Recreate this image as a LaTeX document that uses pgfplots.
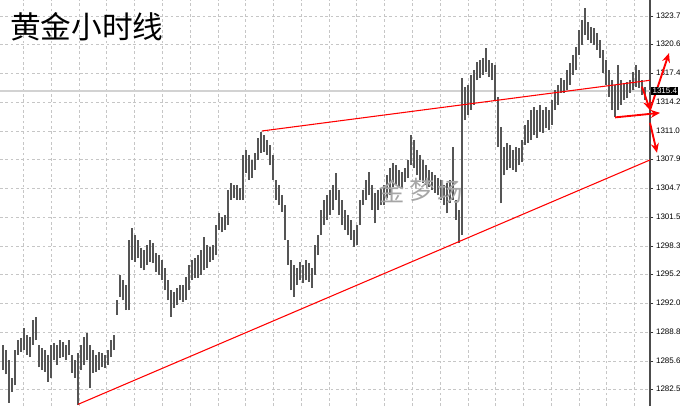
\documentclass[border=0pt]{standalone}
\usepackage{fontspec}
\setmainfont{Liberation Sans}
\newfontfamily\cjk{Noto Sans CJK SC}
\usepackage{pgfplots}
\pgfplotsset{compat=1.18}
\usepackage{pgfplotstable}
\usetikzlibrary{arrows.meta}
\definecolor{barcol}{RGB}{85,85,85}

\pgfplotstableread{
i l h
0 1284.6 1287.4
1 1284.1 1286.8
2 1281.0 1285.7
3 1282.2 1283.7
4 1282.9 1286.8
5 1286.3 1287.9
6 1286.6 1288.1
7 1286.8 1289.2
8 1286.3 1288.5
9 1286.0 1288.2
10 1287.4 1290.1
11 1287.9 1290.5
12 1284.9 1287.4
13 1284.6 1287.0
14 1284.4 1286.8
15 1283.3 1286.3
16 1283.7 1287.4
17 1285.7 1287.6
18 1285.2 1287.4
19 1285.9 1287.9
20 1286.0 1287.7
21 1285.7 1287.4
22 1286.3 1287.9
23 1284.3 1286.3
24 1283.7 1285.7
25 1280.7 1286.5
26 1284.6 1287.4
27 1285.2 1288.2
28 1285.7 1288.7
29 1282.6 1287.4
30 1284.3 1286.8
31 1284.4 1286.3
32 1284.6 1286.6
33 1284.9 1286.5
34 1284.8 1286.3
35 1285.2 1286.8
36 1286.0 1287.9
37 1286.8 1288.5
38 1290.7 1292.3
39 1292.7 1295.1
40 1292.3 1294.5
41 1291.2 1294.0
42 1291.2 1299.0
43 1296.8 1300.3
44 1296.5 1299.5
45 1297.0 1299.0
46 1295.9 1298.1
47 1295.6 1297.9
48 1296.2 1298.4
49 1296.5 1299.0
50 1296.4 1298.6
51 1295.4 1297.5
52 1295.1 1297.3
53 1294.5 1296.8
54 1293.4 1295.9
55 1292.3 1294.5
56 1290.5 1293.4
57 1291.5 1293.2
58 1291.8 1293.7
59 1292.3 1294.0
60 1292.1 1294.0
61 1292.3 1294.9
62 1293.4 1296.2
63 1294.5 1296.8
64 1294.8 1297.0
65 1294.8 1297.3
66 1295.1 1297.9
67 1295.6 1299.3
68 1295.9 1298.4
69 1296.5 1298.2
70 1296.8 1298.4
71 1297.3 1300.6
72 1300.1 1301.9
73 1299.8 1301.5
74 1300.1 1301.7
75 1300.6 1304.5
76 1303.4 1305.3
77 1303.6 1305.0
78 1303.4 1305.0
79 1303.4 1304.7
80 1303.4 1308.4
81 1306.4 1308.9
82 1305.6 1308.4
83 1305.8 1307.8
84 1306.7 1308.6
85 1307.8 1310.2
86 1308.6 1310.9
87 1308.7 1310.6
88 1308.4 1310.0
89 1307.2 1309.5
90 1305.6 1308.4
91 1303.4 1305.6
92 1302.8 1305.0
93 1302.1 1303.9
94 1299.0 1302.8
95 1296.2 1299.0
96 1293.4 1296.8
97 1292.7 1296.2
98 1294.0 1295.9
99 1294.5 1296.5
100 1294.2 1296.2
101 1294.5 1296.8
102 1294.3 1296.4
103 1293.7 1295.9
104 1295.1 1298.4
105 1297.3 1299.5
106 1299.5 1302.3
107 1300.6 1303.4
108 1301.2 1303.9
109 1301.7 1304.5
110 1302.3 1305.0
111 1303.4 1306.4
112 1301.7 1304.5
113 1300.6 1303.4
114 1300.1 1302.3
115 1299.5 1301.7
116 1299.0 1301.2
117 1298.2 1300.1
118 1298.4 1300.6
119 1300.6 1303.4
120 1302.8 1304.5
121 1303.4 1305.6
122 1303.9 1306.5
123 1302.3 1305.0
124 1300.8 1304.2
125 1302.3 1304.5
126 1302.8 1304.7
127 1302.8 1305.0
128 1303.6 1306.1
129 1303.9 1306.9
130 1304.8 1307.5
131 1305.0 1307.2
132 1304.8 1306.7
133 1304.7 1306.5
134 1305.4 1306.9
135 1305.8 1307.8
136 1307.2 1310.6
137 1306.9 1310.0
138 1306.1 1308.9
139 1305.6 1308.4
140 1305.3 1307.8
141 1305.0 1307.2
142 1304.8 1306.7
143 1304.5 1306.5
144 1304.2 1306.1
145 1303.9 1305.8
146 1303.4 1305.6
147 1302.8 1305.0
148 1301.9 1305.3
149 1303.0 1305.6
150 1303.4 1309.2
151 1301.2 1303.4
152 1298.6 1302.3
153 1299.5 1316.9
154 1312.2 1315.9
155 1312.8 1316.1
156 1313.3 1317.2
157 1313.9 1317.7
158 1316.6 1318.6
159 1316.9 1318.8
160 1317.2 1319.1
161 1317.5 1320.2
162 1317.0 1318.8
163 1316.6 1318.5
164 1314.4 1318.3
165 1309.2 1314.8
166 1303.0 1311.4
167 1306.1 1309.2
168 1306.7 1309.7
169 1306.9 1309.5
170 1306.7 1308.9
171 1306.5 1309.2
172 1307.2 1309.1
173 1307.6 1310.0
174 1309.5 1311.7
175 1309.7 1312.2
176 1310.0 1313.3
177 1310.6 1313.7
178 1310.2 1313.3
179 1310.9 1313.9
180 1310.8 1313.3
181 1311.3 1313.7
182 1311.1 1313.3
183 1311.7 1314.4
184 1313.3 1315.5
185 1313.9 1316.1
186 1315.2 1316.9
187 1315.2 1316.6
188 1315.5 1317.7
189 1316.1 1318.5
190 1317.2 1319.4
191 1317.7 1320.3
192 1319.4 1322.2
193 1320.5 1323.3
194 1321.6 1324.6
195 1321.1 1323.0
196 1320.7 1322.5
197 1320.5 1322.4
198 1320.0 1321.8
199 1319.1 1321.1
200 1317.4 1320.0
201 1316.1 1318.8
202 1314.8 1317.7
203 1313.3 1316.6
204 1312.6 1316.1
205 1313.3 1318.3
206 1313.9 1316.6
207 1314.4 1316.3
208 1314.6 1316.4
209 1315.2 1316.6
210 1315.5 1317.5
211 1315.9 1318.3
212 1315.8 1317.7
213 1315.0 1316.6
214 1314.4 1315.9
}\bars

\begin{document}
\begin{tikzpicture}
\begin{axis}[
  at={(0pt,0pt)}, anchor=south west,
  scale only axis, width=487.5pt, height=304.5pt,
  xmin=-1, xmax=215.67, ymin=1280.62, ymax=1325.47,
  axis x line*=bottom, x axis line style={draw=none},
  axis y line*=right, y axis line style={draw=black!70, line width=1pt},
  xtick={6.83,16.09,...,211}, xticklabels={}, x tick style={draw=none},
  ytick={1282.5,1285.6,1288.8,1292.0,1295.2,1298.3,1301.5,1304.7,1307.9,1311.0,1314.2,1317.4,1320.6,1323.7},
  yticklabels={1282.5,1285.6,1288.8,1292.0,1295.2,1298.3,1301.5,1304.7,1307.9,1311.0,1314.2,1317.4,1320.6,1323.7},
  grid=major,
  grid style={draw=gray!45, dash pattern=on 2pt off 2pt, line width=0.6pt},
  y tick style={draw=black!80, line width=0.6pt},
  tick align=outside, major tick length=2.5pt,
  yticklabel style={font=\fontsize{6}{7}\selectfont, xshift=-1.5pt},
  /pgf/number format/assume math mode=true,
  clip=false,
]
\addplot[draw=gray!35, line width=1.5pt, forget plot] coordinates {(-1,1315.4) (215.67,1315.4)};

\pgfplotsinvokeforeach{0,...,214}{
  \pgfplotstablegetelem{#1}{l}\of{\bars}\let\blo\pgfplotsretval
  \pgfplotstablegetelem{#1}{h}\of{\bars}\let\bhi\pgfplotsretval
  \addplot[draw=barcol, line width=1.6pt, mark=none, forget plot] coordinates {(#1,\blo) (#1,\bhi)};
}

\addplot[red, line width=0.8pt, forget plot] coordinates {(25,1280.8) (215.67,1307.8)};
\addplot[red, line width=0.8pt, forget plot] coordinates {(86.33,1311.0) (215.67,1316.6)};

\node[font=\cjk\fontsize{19}{19}\selectfont, text=gray!70] at (axis cs:129.7,1304.3) {金};
\node[font=\cjk\fontsize{19}{19}\selectfont, text=gray!70] at (axis cs:139.7,1304.5) {梦};
\node[font=\cjk\fontsize{19}{19}\selectfont, text=gray!70] at (axis cs:149,1304.3) {场};

\node[anchor=west, font=\cjk\fontsize{23}{23}\selectfont, inner sep=0pt] at (rel axis cs:0.015,0.933) {黄金小时线};

\draw[red, line width=1.4pt, -{Stealth[length=7pt,width=6pt]}] (axis cs:213,1315.9) -- (axis cs:215.67,1313.3);
\draw[red, line width=1.4pt, -{Stealth[length=7pt,width=6pt]}] (axis cs:215.67,1313.3) -- (axis cs:222,1319.6);
\draw[red, line width=1.4pt, -{Stealth[length=7pt,width=6pt]}] (axis cs:204,1312.5) -- (axis cs:219,1313.0);
\draw[red, line width=1.4pt, -{Stealth[length=7pt,width=6pt]}] (axis cs:215.67,1311.9) -- (axis cs:218,1308.6);

\node[fill=black, text=white, anchor=west, inner sep=1pt, font=\fontsize{6}{7}\selectfont] at (axis cs:216,1315.4) {1315.4};
\end{axis}
\pgfresetboundingbox
\useasboundingbox (0,0) rectangle (510pt,304.5pt);
\end{tikzpicture}
\end{document}
